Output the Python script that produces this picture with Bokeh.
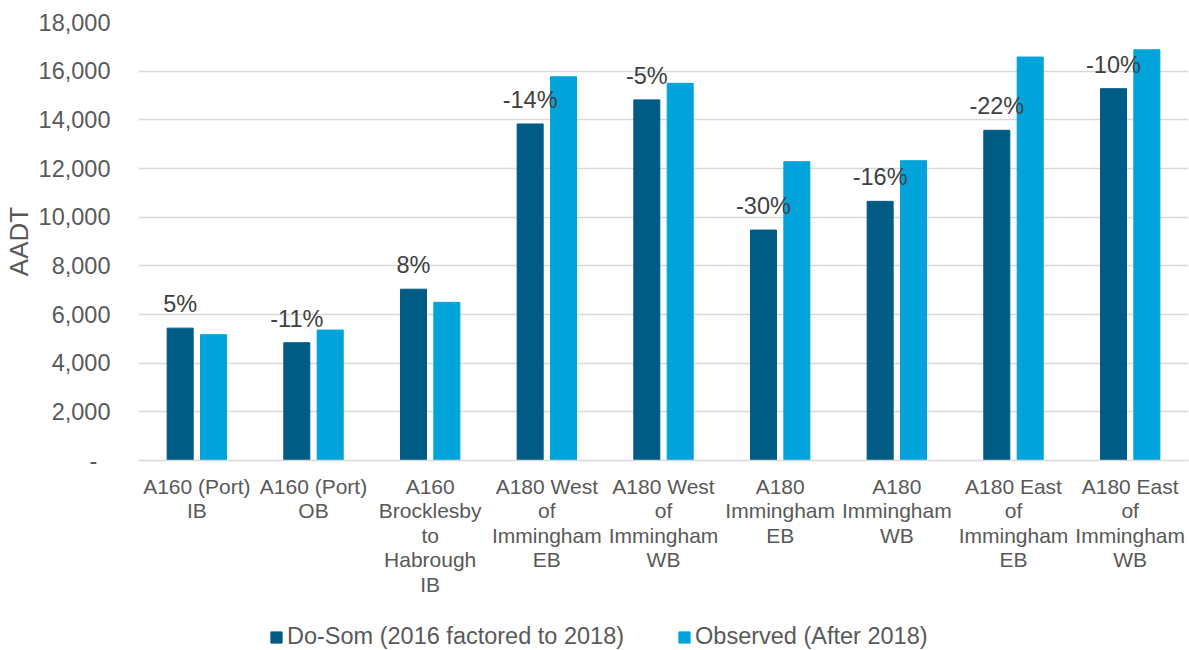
from bokeh.plotting import figure
from bokeh.layouts import column
from bokeh.models import (FactorRange, ColumnDataSource, LabelSet, Legend, LegendItem,
                          FixedTicker, NumeralTickFormatter, Range1d)
from bokeh.core.properties import value
from bokeh.transform import dodge
from bokeh.embed import file_html
from bokeh.resources import INLINE

# Count sites (multi-line category labels)
categories = [
    "A160 (Port)\nIB",
    "A160 (Port)\nOB",
    "A160\nBrocklesby\nto\nHabrough\nIB",
    "A180 West\nof\nImmingham\nEB",
    "A180 West\nof\nImmingham\nWB",
    "A180\nImmingham\nEB",
    "A180\nImmingham\nWB",
    "A180 East\nof\nImmingham\nEB",
    "A180 East\nof\nImmingham\nWB",
]

# AADT values
do_som = [5440, 4840, 7040, 13830, 14820, 9470, 10650, 13570, 15280]
observed = [5170, 5360, 6500, 15770, 15500, 12280, 12320, 16580, 16880]

# Percentage difference labels shown above the Do-Som bars
diff_labels = ["5%", "-11%", "8%", "-14%", "-5%", "-30%", "-16%", "-22%", "-10%"]

y_ticks = [0, 2000, 4000, 6000, 8000, 10000, 12000, 14000, 16000, 18000]

series_names = ["Do-Som (2016 factored to 2018)", "Observed (After 2018)"]

DARK = "#005B85"
LIGHT = "#00A3DA"
FONT = "Liberation Sans"
W = 1189
LEG_H = 40

src = ColumnDataSource(dict(cat=categories, do_som=do_som, observed=observed, lab=diff_labels))

p = figure(width=W, height=650 - LEG_H,
           x_range=FactorRange(*categories), y_range=Range1d(0, 18000),
           output_backend="svg", toolbar_location=None,
           min_border_left=138, min_border_right=1, min_border_top=22,
           min_border_bottom=650 - LEG_H - 460)

p.vbar(x=dodge("cat", -0.143, range=p.x_range), top="do_som", width=0.223,
       source=src, fill_color=DARK, line_color=DARK)
p.vbar(x=dodge("cat", 0.143, range=p.x_range), top="observed", width=0.223,
       source=src, fill_color=LIGHT, line_color=LIGHT)

labels = LabelSet(x=dodge("cat", -0.143, range=p.x_range), y="do_som", text="lab",
                  source=src, text_align="center", text_baseline="alphabetic",
                  y_offset=16, text_font=value(FONT), text_font_size=value("23.5px"),
                  text_color="#404040")
p.add_layout(labels)

# Axes
p.xaxis.major_label_text_font = FONT
p.xaxis.major_label_text_font_size = "21px"
p.xaxis.major_label_text_color = "#595959"
p.xaxis.major_label_text_line_height = 1.07
p.xaxis.major_label_standoff = 14
p.xaxis.major_tick_line_color = None
p.xaxis.major_tick_out = 0
p.xaxis.minor_tick_line_color = None
p.xaxis.axis_line_color = "#D9D9D9"
p.xaxis.axis_line_width = 1.5

p.yaxis.ticker = FixedTicker(ticks=y_ticks)
p.yaxis.formatter = NumeralTickFormatter(format="0,0")
p.yaxis.major_label_overrides = {0: "-\u00a0\u00a0"}
p.yaxis.major_label_text_font = FONT
p.yaxis.major_label_text_font_size = "23.5px"
p.yaxis.major_label_text_color = "#595959"
p.yaxis.major_label_standoff = 28
p.yaxis.major_tick_line_color = None
p.yaxis.major_tick_out = 0
p.yaxis.minor_tick_line_color = None
p.yaxis.axis_line_color = None
p.yaxis.axis_label = "AADT"
p.yaxis.axis_label_text_font = FONT
p.yaxis.axis_label_text_font_size = "26px"
p.yaxis.axis_label_text_font_style = "normal"
p.yaxis.axis_label_text_color = "#595959"
p.yaxis.axis_label_standoff = 2

p.xgrid.grid_line_color = None
p.ygrid.ticker = FixedTicker(ticks=y_ticks)
p.ygrid.grid_line_color = "#D9D9D9"
p.ygrid.grid_line_width = 1.5
p.outline_line_color = None

# Legend strip beneath the chart; its swatch renderers sit outside the visible range
leg = figure(width=W, height=LEG_H, x_range=(0, 1), y_range=(0, 1),
             output_backend="svg", toolbar_location=None,
             min_border=0, x_axis_type=None, y_axis_type=None)
leg.grid.visible = False
leg.outline_line_color = None
swatch = ColumnDataSource(dict(x=[-5], top=[-5]))
g1 = leg.vbar(x="x", top="top", width=0.1, source=swatch, fill_color=DARK, line_color=DARK)
g2 = leg.vbar(x="x", top="top", width=0.1, source=swatch, fill_color=LIGHT, line_color=LIGHT)
legend = Legend(items=[LegendItem(label=series_names[0], renderers=[g1]),
                       LegendItem(label=series_names[1], renderers=[g2])],
                orientation="horizontal", location=(131, 0),
                glyph_width=14, glyph_height=14, label_standoff=4, spacing=53,
                padding=0, margin=0, border_line_color=None, background_fill_alpha=0,
                label_text_font=FONT, label_text_font_size="23.5px",
                label_text_color="#595959")
leg.add_layout(legend)

page = column(p, leg, spacing=0)
open("out.html", "w").write(file_html(page, INLINE))
